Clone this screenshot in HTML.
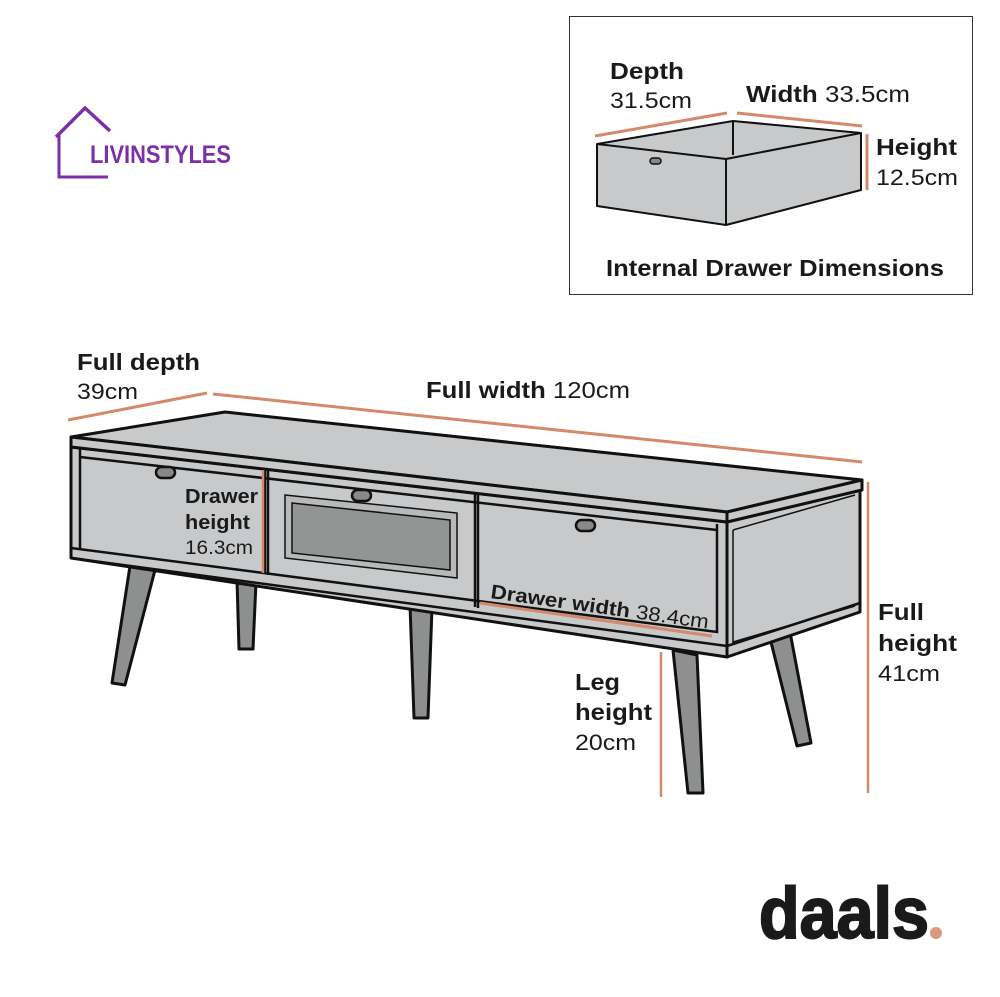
<!DOCTYPE html>
<html><head><meta charset="utf-8"><style>
html,body{margin:0;padding:0;background:#fff;}
svg{display:block;}
text{font-family:"Liberation Sans",sans-serif;fill:#1a1a1a;}
.b{font-weight:bold;}
</style></head><body>
<svg width="1000" height="997" viewBox="0 0 1000 997">
<rect width="1000" height="997" fill="#fff"/>
<!-- logo -->
<polyline points="59,133 59,177 108,177" fill="none" stroke="#7b2fa8" stroke-width="3"/>
<polyline points="56,137 85,108 110,131" fill="none" stroke="#7b2fa8" stroke-width="3.5"/>
<text x="90" y="163" font-size="25" class="b" style="fill:#7b2fa8;font-family:'Liberation Sans Narrow','Liberation Sans',sans-serif" textLength="141" lengthAdjust="spacingAndGlyphs">LIVINSTYLES</text>

<!-- inset box -->
<rect x="569.5" y="16.5" width="403" height="278" fill="#fff" stroke="#333" stroke-width="1"/>
<text x="610" y="79" font-size="23" class="b" textLength="74" lengthAdjust="spacingAndGlyphs">Depth</text>
<text x="610" y="108" font-size="22" textLength="82" lengthAdjust="spacingAndGlyphs">31.5cm</text>
<text x="746" y="102" font-size="23" textLength="164" lengthAdjust="spacingAndGlyphs"><tspan class="b">Width</tspan> 33.5cm</text>
<text x="876" y="155" font-size="23" class="b" textLength="81" lengthAdjust="spacingAndGlyphs">Height</text>
<text x="876" y="185" font-size="22" textLength="82" lengthAdjust="spacingAndGlyphs">12.5cm</text>
<text x="606" y="276" font-size="23" class="b" textLength="338" lengthAdjust="spacingAndGlyphs">Internal Drawer Dimensions</text>
<g stroke="#d4896a" stroke-width="3">
<line x1="595" y1="136" x2="727" y2="113"/>
<line x1="737" y1="113" x2="862" y2="126"/>
<line x1="867" y1="134" x2="867" y2="190"/>
</g>
<g stroke="#111" stroke-width="2" fill="#c8c9ca" stroke-linejoin="round">
<polygon points="597,144 733,121 861,133 861,190 726,225 597,206"/>
<polyline points="597,144 726,159 861,133" fill="none"/>
<line x1="726" y1="159" x2="726" y2="225"/>
<line x1="733" y1="121" x2="733" y2="155"/>
</g>
<rect x="650" y="158" width="11" height="6" rx="3" fill="#888" stroke="#111" stroke-width="1.5"/>

<!-- dimension labels -->
<text x="77" y="370" font-size="23" class="b" textLength="123" lengthAdjust="spacingAndGlyphs">Full depth</text>
<text x="77" y="399" font-size="22" textLength="61" lengthAdjust="spacingAndGlyphs">39cm</text>
<text x="426" y="398" font-size="23" textLength="204" lengthAdjust="spacingAndGlyphs"><tspan class="b">Full width</tspan> 120cm</text>
<g stroke="#d4896a" stroke-width="3">
<line x1="68" y1="420" x2="207" y2="393"/>
<line x1="213" y1="394" x2="862" y2="462"/>
</g>

<!-- legs -->
<g fill="#8e9090" stroke="#111" stroke-width="3" stroke-linejoin="round">
<polygon points="237,580 256,582 253,649 239,649"/>
<polygon points="130,566 155,570 125,685 112,683"/>
<polygon points="410,605 432,608 428,718 414,718"/>
<polygon points="770,638 790,632 811,743 797,746"/>
<polygon points="673,650 697,655 703,793 688,793"/>
</g>

<!-- table body -->
<g stroke="#111" stroke-width="3" fill="#c8c9ca" stroke-linejoin="round">
<polygon points="71,447 727,522 727,657 71,558"/>
<polygon points="727,522 860,490 860,612 727,657"/>
<polygon points="71,437 225,412 862,480 727,512"/>
<polygon points="71,437 727,512 727,522 71,447"/>
<polygon points="727,512 862,480 862,490 727,522"/>
</g>
<g stroke="#111" stroke-width="2.5" fill="none">
<line x1="80" y1="448" x2="80" y2="549"/>
<polyline points="71,548 717,632 717,524"/>
<line x1="71" y1="558" x2="727" y2="646"/>
<line x1="727" y1="646" x2="860" y2="603"/>
<line x1="265" y1="470" x2="265" y2="574"/>
<line x1="268" y1="470" x2="268" y2="575"/>
<line x1="475" y1="494" x2="475" y2="607"/>
<line x1="478" y1="495" x2="478" y2="608"/>
<line x1="80" y1="457" x2="717" y2="530"/>
</g>
<g stroke="#111" stroke-width="1.5" fill="none">
<line x1="733" y1="530" x2="733" y2="644"/>
<line x1="733" y1="530" x2="855" y2="495"/>
<line x1="733" y1="642" x2="855" y2="606"/>
</g>
<!-- glass window -->
<polygon points="285,495 457,513 457,578 285,558" fill="#b8b9ba" stroke="#111" stroke-width="1.5"/>
<polygon points="292,503 450,520 450,570 292,553" fill="#939595" stroke="#111" stroke-width="1.5"/>
<!-- handles -->
<g fill="#888" stroke="#111" stroke-width="2.5">
<rect x="156" y="467" width="19" height="11" rx="5.5"/>
<rect x="352" y="490" width="19" height="11" rx="5.5"/>
<rect x="576" y="520" width="19" height="11" rx="5.5"/>
</g>

<!-- drawer dims -->
<line x1="263" y1="470" x2="263" y2="573" stroke="#d4896a" stroke-width="2.5"/>
<text x="185" y="503" font-size="20" class="b" textLength="73" lengthAdjust="spacingAndGlyphs">Drawer</text>
<text x="185" y="529" font-size="20" class="b" textLength="65" lengthAdjust="spacingAndGlyphs">height</text>
<text x="185" y="554" font-size="19" textLength="68" lengthAdjust="spacingAndGlyphs">16.3cm</text>
<line x1="480" y1="603" x2="712" y2="636" stroke="#d4896a" stroke-width="3"/>
<text x="490" y="598" font-size="20" transform="rotate(8 490 598)" textLength="220" lengthAdjust="spacingAndGlyphs"><tspan class="b">Drawer width</tspan> 38.4cm</text>

<line x1="661" y1="652" x2="661" y2="797" stroke="#d4896a" stroke-width="2.5"/>
<text x="575" y="690" font-size="23" class="b" textLength="45" lengthAdjust="spacingAndGlyphs">Leg</text>
<text x="575" y="720" font-size="23" class="b" textLength="77" lengthAdjust="spacingAndGlyphs">height</text>
<text x="575" y="750" font-size="22" textLength="61" lengthAdjust="spacingAndGlyphs">20cm</text>
<line x1="868" y1="482" x2="868" y2="793" stroke="#d4896a" stroke-width="2.5"/>
<text x="878" y="620" font-size="23" class="b" textLength="46" lengthAdjust="spacingAndGlyphs">Full</text>
<text x="878" y="651" font-size="23" class="b" textLength="79" lengthAdjust="spacingAndGlyphs">height</text>
<text x="878" y="681" font-size="22" textLength="62" lengthAdjust="spacingAndGlyphs">41cm</text>

<!-- daals -->
<text x="759" y="938" font-size="72" class="b" style="stroke:#1a1a1a;stroke-width:2" textLength="170" lengthAdjust="spacingAndGlyphs">daals</text>
<circle cx="936" cy="933" r="6" fill="#d99a80"/>
</svg>
</body></html>
